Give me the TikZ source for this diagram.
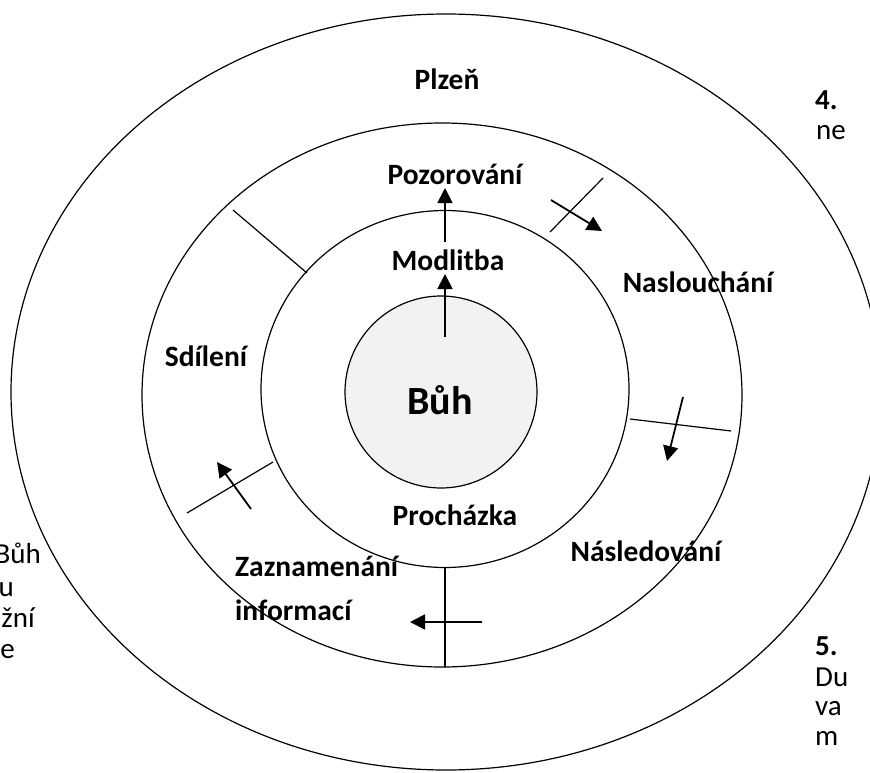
\documentclass[tikz,border=0pt]{standalone}
\usepackage{fontspec}
\setmainfont{Carlito}
\usetikzlibrary{arrows.meta,calc,positioning}

\tikzset{
  ring/.style={line width=1.2pt},
  divider/.style={line width=1.2pt},
  flow/.style={line width=1.8pt,-{Triangle[length=15pt,width=15pt]}},
  lbl/.style={font=\fontsize{29.5}{34}\selectfont\bfseries,inner sep=0pt,anchor=base},
  frag/.style={font=\fontsize{29}{34}\selectfont,inner sep=0pt,anchor=base west}
}

\begin{document}
\begin{tikzpicture}[x=1pt,y=-1pt]
       \useasboundingbox (0,0) rectangle (870,773);
       \clip (0,0) rectangle (870,773);

       
       \coordinate (C1) at (446,392);
       \coordinate (C2) at (442,395);
       \coordinate (C3) at (445,389);
       \coordinate (C4) at (441,392);

       \draw[ring] (C1) ellipse [x radius=435pt, y radius=378pt];
       \draw[ring] (C2) ellipse [x radius=300pt, y radius=272pt];
       \draw[ring] (C3) ellipse [x radius=184pt, y radius=178.5pt];
       \draw[ring,fill=gray!10] (C4) circle [radius=96pt];

       
       \coordinate (DAI) at (307,273);
       \coordinate (DAO) at (233,210);
       \coordinate (DBI) at (550,232);
       \coordinate (DBO) at (603,178);
       \coordinate (DCI) at (630,419);
       \coordinate (DCO) at (731,431);
       \coordinate (DDI) at (445,567);
       \coordinate (DDO) at (445,667);
       \coordinate (DEI) at (273,462);
       \coordinate (DEO) at (187,513);

       \draw[divider] (DAI) -- (DAO);
       \draw[divider] (DBI) -- (DBO);
       \draw[divider] (DCI) -- (DCO);
       \draw[divider] (DDI) -- (DDO);
       \draw[divider] (DEI) -- (DEO);

       
       \coordinate (MOT) at (445,337);
       \coordinate (MOH) at (445,274);
       \coordinate (POT) at (445,242);
       \coordinate (POH) at (445,188);
       \coordinate (NAT) at (551,200);
       \coordinate (NAH) at (602,231);
       \coordinate (NST) at (683,397);
       \coordinate (NSH) at (667,461);
       \coordinate (ZAT) at (482,622);
       \coordinate (ZAH) at (410,622);
       \coordinate (SDT) at (251,509);
       \coordinate (SDH) at (217,462);

       \draw[flow] (MOT) -- (MOH);
       \draw[flow] (POT) -- (POH);
       \draw[flow] (NAT) -- (NAH);
       \draw[flow] (NST) -- (NSH);
       \draw[flow] (ZAT) -- (ZAH);
       \draw[flow] (SDT) -- (SDH);

       
       \node[lbl] (buh)  at (440,414) {\fontsize{40}{44}\selectfont Bůh};
       \node[lbl] (plzen) at (447,90) {Plzeň};
       \node[lbl] (pozor) at (455,184) {Pozorování};
       \node[lbl] (modl) at (448,270) {Modlitba};
       \node[lbl] (proch) at (455,525) {Procházka};
       \node[lbl] (nasl) at (698,292) {Naslouchání};
       \node[lbl] (sdil) at (206,366) {Sdílení};
       \node[lbl] (nasled) at (646,561) {Následování};
       \node[lbl,anchor=base west] (zazn) at (235,576) {Zaznamenání};
       \node[lbl,anchor=base west] (info) at (235,620) {informací};

       
       \node[frag,anchor=base east] (fbuh) at (41,563) {Bůh};
       \node[frag,anchor=base east] (fu) at (14,596) {u};
       \node[frag,anchor=base east] (fzni) at (35,627) {žní};
       \node[frag,anchor=base east] (fe) at (15,658) {e};

       
       \node[frag,font=\fontsize{29}{34}\selectfont\bfseries] (f4) at (815,110) {4.};
       \node[frag] (fne) at (816,140) {ne};
       \node[frag,font=\fontsize{29}{34}\selectfont\bfseries] (f5) at (815,655) {5.};
       \node[frag] (fdu) at (815,686) {Du};
       \node[frag] (fva) at (815,715) {va};
       \node[frag] (fm) at (815,745) {m};
     \end{tikzpicture}
\end{document}
